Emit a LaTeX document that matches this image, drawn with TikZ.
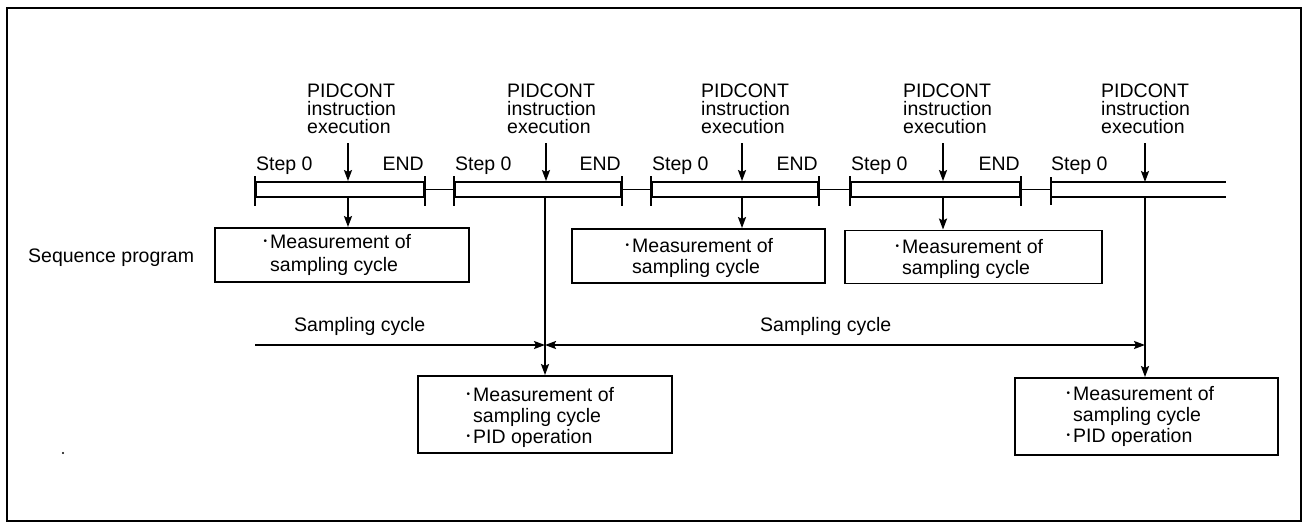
\documentclass[tikz,border=0pt]{standalone}
\usepackage{fontspec}
\setmainfont{Liberation Sans}
\usetikzlibrary{arrows.meta}
\newcommand\bul{\makebox[0pt][r]{\raisebox{3.5pt}{\fontsize{10}{10}\selectfont •}\hspace{3pt}}}
\begin{document}
\begin{tikzpicture}[x=1pt,y=-1pt,
  ln/.style={line width=1.9pt},
  arr/.style={ln,-{Stealth[length=11pt,width=8pt,inset=2pt]}},
  darr/.style={ln,{Stealth[length=11pt,width=8pt,inset=2pt]}-{Stealth[length=11pt,width=8pt,inset=2pt]}},
  bar/.style={draw,ln,rectangle,minimum height=15pt,inner sep=0pt},
  lbl/.style={font=\fontsize{19.5}{19.5}\selectfont,inner sep=0pt,anchor=base west},
  lble/.style={lbl,anchor=base east},
  mbox/.style={draw,ln,rectangle,inner sep=0pt}]
\useasboundingbox (0,0) rectangle (1305,525);
\draw[line width=2.5pt] (7,8) rectangle (1301,521);
\fill (63,453) circle (1.2pt);
% bars
\node[bar,minimum width=168pt] (b1) at (340,189.5) {};
\node[bar,minimum width=166pt] (b2) at (538,189.5) {};
\node[bar,minimum width=166pt] (b3) at (735,189.5) {};
\node[bar,minimum width=169pt] (b4) at (935.5,189.5) {};
\coordinate (b5l) at (1051,189.5);
\draw[ln] (1051,182) -- (1226,182) (1051,197) -- (1226,197);
% ticks
\foreach \b in {b1,b2,b3,b4}{
  \draw[ln] ([yshift=5pt]\b.north west) -- ([yshift=-8pt]\b.south west);
  \draw[ln] ([yshift=5pt]\b.north east) -- ([yshift=-8pt]\b.south east);
}
\draw[ln] (1051,177) -- (1051,205);
% connectors
\draw[ln] (b1.east) -- (b2.west);
\draw[ln] (b2.east) -- (b3.west);
\draw[ln] (b3.east) -- (b4.west);
\draw[ln] (b4.east) -- (b5l);
% labels Step 0 / END
\node[lbl] (s01) at (256,170) {Step 0};
\node[lble] (e1) at (424,170) {END};
\node[lbl] (s02) at (455,170) {Step 0};
\node[lble] (e2) at (621,170) {END};
\node[lbl] (s03) at (652,170) {Step 0};
\node[lble] (e3) at (818,170) {END};
\node[lbl] (s04) at (851,170) {Step 0};
\node[lble] (e4) at (1020,170) {END};
\node[lbl] (s05) at (1051,170) {Step 0};
% PIDCONT labels
\foreach \x [count=\i] in {307,507,701,903,1101}{
  \node[lbl] (pa\i) at (\x,97) {PIDCONT};
  \node[lbl] (pb\i) at (\x,115) {instruction};
  \node[lbl] (pc\i) at (\x,133) {execution};
}
% arrows into bars
\coordinate (t1) at (348,143);
\coordinate (t2) at (546,143);
\coordinate (t3) at (742,143);
\coordinate (t4) at (943,143);
\coordinate (t5) at (1145,143);
\draw[arr] (t1) -- (t1 |- b1.north);
\draw[arr] (t2) -- (t2 |- b2.north);
\draw[arr] (t3) -- (t3 |- b3.north);
\draw[arr] (t4) -- (t4 |- b4.north);
\draw[arr] (t5) -- (1145,182);
% measurement boxes
\node[lbl] (seq) at (28,262) {Sequence program};
\node[mbox,minimum width=254pt,minimum height=54pt] (m1) at (342,255) {};
\node[mbox,minimum width=253pt,minimum height=54pt] (m3) at (698.5,256) {};
\node[mbox,minimum width=257pt,minimum height=53pt] (m4) at (973.5,257) {};
\node[mbox,minimum width=254pt,minimum height=77pt] (m2) at (545,414.5) {};
\node[mbox,minimum width=263pt,minimum height=77pt] (m5) at (1146.5,416.5) {};
\node[lbl] (m1a) at (270,248) {\bul Measurement of};
\node[lbl] (m1b) at (270,271) {sampling cycle};
\node[lbl] (m3a) at (632,252) {\bul Measurement of};
\node[lbl] (m3b) at (632,273) {sampling cycle};
\node[lbl] (m4a) at (902,253) {\bul Measurement of};
\node[lbl] (m4b) at (902,274) {sampling cycle};
\node[lbl] (m2a) at (473,401) {\bul Measurement of};
\node[lbl] (m2b) at (473,422) {sampling cycle};
\node[lbl] (m2c) at (473,443) {\bul PID operation};
\node[lbl] (m5a) at (1073,400) {\bul Measurement of};
\node[lbl] (m5b) at (1073,421) {sampling cycle};
\node[lbl] (m5c) at (1073,442) {\bul PID operation};
\draw[arr] (b1.south -| t1) -- (t1 |- m1.north);
\draw[arr] (b3.south -| t3) -- (t3 |- m3.north);
\draw[arr] (b4.south -| t4) -- (t4 |- m4.north);
\coordinate (v2) at (545,197);
\coordinate (v5) at (1145,197);
\draw[arr] (v2) -- (v2 |- m2.north);
\draw[arr] (v5) -- (v5 |- m5.north);
% sampling cycle
\coordinate (sc1) at (255,345);
\coordinate (sc2) at (545,345);
\coordinate (sc3) at (1145,345);
\draw[arr] (sc1) -- (sc2);
\draw[darr] (sc2) -- (sc3);
\node[lbl] (sl1) at (294,331) {Sampling cycle};
\node[lbl] (sl2) at (760,331) {Sampling cycle};
\end{tikzpicture}
\end{document}
